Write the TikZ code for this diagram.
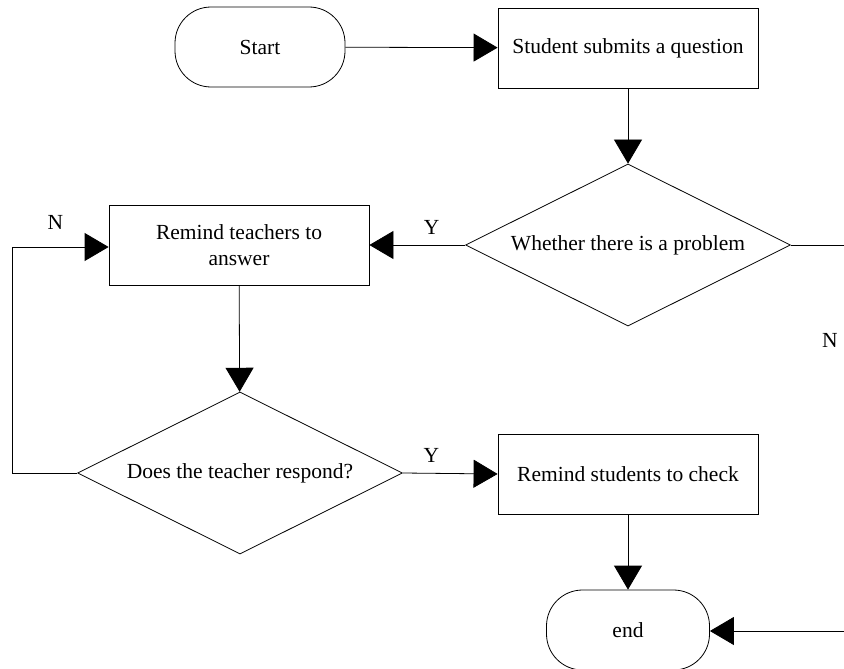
\documentclass[tikz,border=0pt]{standalone}
\usepackage{fontspec}
\setmainfont{Liberation Serif}
\usepackage{tikz}
\usetikzlibrary{positioning,shapes.geometric,arrows.meta}

\tikzset{
  term/.style={draw,rounded corners=36pt,minimum width=170pt,minimum height=80pt,inner sep=0pt},
  stepbox/.style={draw,minimum width=260pt,minimum height=80pt,align=center,inner sep=0pt},
  decide/.style={draw,diamond,aspect=2,minimum width=325pt,minimum height=162pt,inner sep=0pt},
  flow/.style={line width=0.8pt,-{Triangle[length=24pt,width=28pt]}},
  plain/.style={line width=0.8pt}
}

\begin{document}
\begin{tikzpicture}[x=1pt,y=-1pt,line width=0.8pt,font=\fontsize{21.5}{26}\selectfont]
\useasboundingbox (0,0) rectangle (844,669);
\clip (0,0) rectangle (844,669);
% nodes
\node [term] (start) at (260,47) {Start};
\node [stepbox] (submit) at (628,48) {Student submits a question};
\node [decide] (problem) at (628,245) {Whether there is a problem};
\node [stepbox] (teachers) at (239,245) {Remind teachers to\\answer};
\node [decide] (respond) at (240,473) {Does the teacher respond?};
\node [stepbox] (students) at (628,474) {Remind students to check};
\node [term,minimum width=163pt] (end) at (628,630) {end};
\coordinate (loopleft) at (12,473);
\coordinate (loopup) at (12,247);
\coordinate (rightup) at (870,245);
\coordinate (rightdown) at (870,631);
% connectors
\draw [flow](start)--(submit);
\draw [flow](submit)--(problem);
\draw [flow](problem.west)--node[above=7pt,pos=0.35]{Y}(teachers.east);
\draw [flow](teachers)--(respond);
\draw [flow](respond.east)--node[above=7pt,pos=0.3]{Y}(students.west);
\draw [flow](students)--(end);
\draw [plain](respond.west)--(loopleft)--(loopup);
\draw [flow](loopup)--node[above=14pt,pos=0.45]{N}(teachers.west |- loopup);
\draw [plain](problem.east)--(rightup)--(rightdown);
\draw [flow](rightdown)--(end.east |- rightdown);
\node (nlabel) at (830,340) {N};
\end{tikzpicture}
\end{document}
